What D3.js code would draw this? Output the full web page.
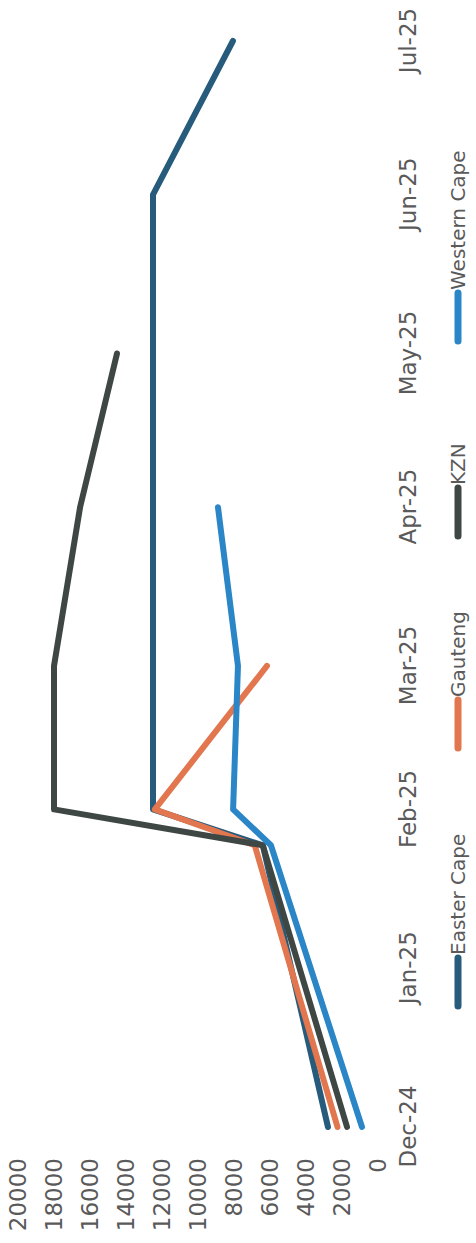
<!DOCTYPE html>
<html>
<head>
<meta charset="utf-8">
<script src="https://cdn.jsdelivr.net/npm/d3@7"></script>
<style>
  html, body { margin: 0; padding: 0; background: #ffffff; }
  svg { display: block; }
  .tick text { font-family: "DejaVu Sans", sans-serif; fill: #5a5a5a; }
</style>
</head>
<body>
<svg id="chart" width="476" height="1243"></svg>
<script>
// Observation dates (Excel date axis); the second point falls on 25 January
const dates = ["2024-12-01", "2025-01-25", "2025-02-01", "2025-03-01", "2025-04-01", "2025-05-01", "2025-06-01", "2025-07-01"];

// Monthly counts per province
const easternCape = [2780, 6400, 12500, 12500, 12500, 12500, 12500, 8060];
const gauteng     = [2250, 6850, 12400, 6170, null, null, null, null];
const kzn         = [1720, 6400, 18000, 18000, 16550, 14500, null, null];
const westernCape = [890, 5950, 8050, 7780, 8890, null, null, null];

// Axis ticks
const monthTicks  = ["2024-12-01", "2025-01-01", "2025-02-01", "2025-03-01", "2025-04-01", "2025-05-01", "2025-06-01", "2025-07-01"];
const monthLabels = ["Dec-24", "Jan-25", "Feb-25", "Mar-25", "Apr-25", "May-25", "Jun-25", "Jul-25"];
const valueTicks  = [0, 2000, 4000, 6000, 8000, 10000, 12000, 14000, 16000, 18000, 20000];

const seriesNames  = ["Easter Cape", "Gauteng", "KZN", "Western Cape"];
const seriesValues = [easternCape, gauteng, kzn, westernCape];
const seriesColors = ["#265b7c", "#e2764f", "#3f4744", "#2a86c6"];

// The chart is laid out landscape and then turned a quarter turn counter-clockwise
const W = 1243, H = 476;
const svg = d3.select("#chart");
const root = svg.append("g").attr("transform", `translate(0,${W}) rotate(-90)`);

const parse = d3.utcParse("%Y-%m-%d");

const x = d3.scaleUtc()
  .domain([parse("2024-12-01"), parse("2025-07-01")])
  .range([116, 1202]);

const y = d3.scaleLinear()
  .domain([0, 20000])
  .range([378, 18]);

// Value axis
const yAxis = root.append("g")
  .attr("transform", "translate(85,0)")
  .call(d3.axisLeft(y).tickValues(valueTicks).tickSize(0).tickPadding(0).tickFormat(d3.format("d")));
yAxis.select(".domain").remove();
yAxis.selectAll("text").style("font-size", "23px");

// Month axis
const xAxis = root.append("g")
  .attr("transform", "translate(0,400)")
  .call(d3.axisBottom(x)
    .tickValues(monthTicks.map(parse))
    .tickSize(0).tickPadding(0)
    .tickFormat((d, i) => monthLabels[i]));
xAxis.select(".domain").remove();
xAxis.selectAll("text").style("font-size", "23px");

// Lines
const line = d3.line()
  .defined(d => d.v != null)
  .x(d => x(d.date))
  .y(d => y(d.v));

seriesValues.forEach((vals, i) => {
  const pts = vals.map((v, j) => ({ date: parse(dates[j]), v }));
  root.append("path")
    .datum(pts)
    .attr("d", line)
    .attr("fill", "none")
    .attr("stroke", seriesColors[i])
    .attr("stroke-width", 6)
    .attr("stroke-linecap", "round")
    .attr("stroke-linejoin", "round");
});

// Legend
const legendX = [233, 491, 703, 898];
const legend = root.append("g").attr("transform", "translate(0,458)");
seriesNames.forEach((name, i) => {
  const g = legend.append("g").attr("transform", `translate(${legendX[i]},0)`);
  g.append("line")
    .attr("x1", 4).attr("x2", 52).attr("y1", 0).attr("y2", 0)
    .attr("stroke", seriesColors[i])
    .attr("stroke-width", 7)
    .attr("stroke-linecap", "round");
  g.append("text")
    .attr("x", 55).attr("y", 0).attr("dy", "0.36em")
    .style("font-family", "DejaVu Sans, sans-serif")
    .style("font-size", "20px")
    .style("fill", "#5a5a5a")
    .text(name);
});
</script>
</body>
</html>
